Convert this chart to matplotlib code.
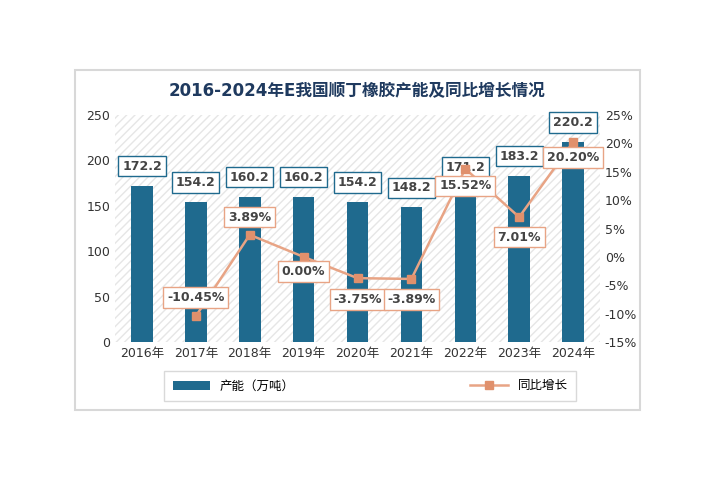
import matplotlib
matplotlib.use("Agg")
import matplotlib.pyplot as plt
from matplotlib.patches import Rectangle

plt.rcParams["font.family"] = ["DejaVu Sans", "Noto Sans CJK SC", "Noto Sans CJK JP"]

years = ["2016年", "2017年", "2018年", "2019年", "2020年", "2021年", "2022年", "2023年", "2024年"]
capacity = [172.2, 154.2, 160.2, 160.2, 154.2, 148.2, 171.2, 183.2, 220.2]
growth_years = years[1:]
growth = [-10.45, 3.89, 0.00, -3.75, -3.89, 15.52, 7.01, 20.20]

W, H = 713, 479
fig = plt.figure(figsize=(W/100, H/100), dpi=100)
fig.patch.set_facecolor("white")
fig.patches.append(Rectangle((75/W, 1-410/H), 565/W, 340/H, transform=fig.transFigure,
                             facecolor="white", edgecolor="#d8d8d8", lw=1.5, zorder=-10))

ax = fig.add_axes([115/W, 1-342/H, 485/W, 227/H])
x = list(range(len(years)))
ax.bar(x, capacity, width=0.4, color="#1f6a8e", zorder=3, label="产能（万吨）")
ax.set_ylim(0, 250)
ax.set_yticks(range(0, 251, 50))
ax.set_xlim(-0.5, len(years)-0.5)
ax.set_xticks(x)
ax.set_xticklabels(years, fontsize=9)
ax.tick_params(length=0, labelsize=9, colors="#333333")
for s in ax.spines.values():
    s.set_visible(False)
ax.add_patch(Rectangle((0, 0), 1, 1, transform=ax.transAxes, facecolor="white",
                       hatch="////", edgecolor="#e6e6e6", lw=0, zorder=0))
for xi, v in zip(x, capacity):
    ax.annotate(f"{v:.1f}", (xi, v), xytext=(0, 14), textcoords="offset points",
                ha="center", va="center", fontsize=9, fontweight="bold", color="#444444",
                bbox=dict(boxstyle="square,pad=0.3", fc="white", ec="#1f6a8e", lw=1), zorder=6)

ax2 = ax.twinx()
gx = x[1:]
ax2.plot(gx, growth, color="#e8a485", lw=1.8, marker="s", markersize=6,
         markerfacecolor="#e0906c", markeredgecolor="#e0906c", zorder=4, label="同比增长")
ax2.set_ylim(-15, 25)
ax2.set_yticks(range(-15, 26, 5))
ax2.set_yticklabels([f"{t}%" for t in range(-15, 26, 5)])
ax2.tick_params(length=0, labelsize=9, colors="#333333")
for s in ax2.spines.values():
    s.set_visible(False)
label_y = [-7.2, 7.0, -2.6, -7.5, -7.5, 12.5, 3.5, 17.5]
for xi, v, ly in zip(gx, growth, label_y):
    ax2.text(xi, ly, f"{v:.2f}%", ha="center", va="center", fontsize=9,
             fontweight="bold", color="#444444", zorder=6,
             bbox=dict(boxstyle="square,pad=0.3", fc="white", ec="#e8a485", lw=1))

fig.text(357/W, 1-90/H, "2016-2024年E我国顺丁橡胶产能及同比增长情况", ha="center", va="center",
         fontsize=12, fontweight="bold", color="#1f3a5f")

h1, l1 = ax.get_legend_handles_labels()
h2, l2 = ax2.get_legend_handles_labels()
leg = fig.legend(h1+h2, l1+l2, loc="center", bbox_to_anchor=(370/W, 1-386/H), ncol=2,
                 frameon=True, fontsize=9, columnspacing=14, handlelength=3)
leg.get_frame().set_edgecolor("#d0d0d0")
leg.get_frame().set_boxstyle("square")

fig.savefig("out.png", dpi=100)
